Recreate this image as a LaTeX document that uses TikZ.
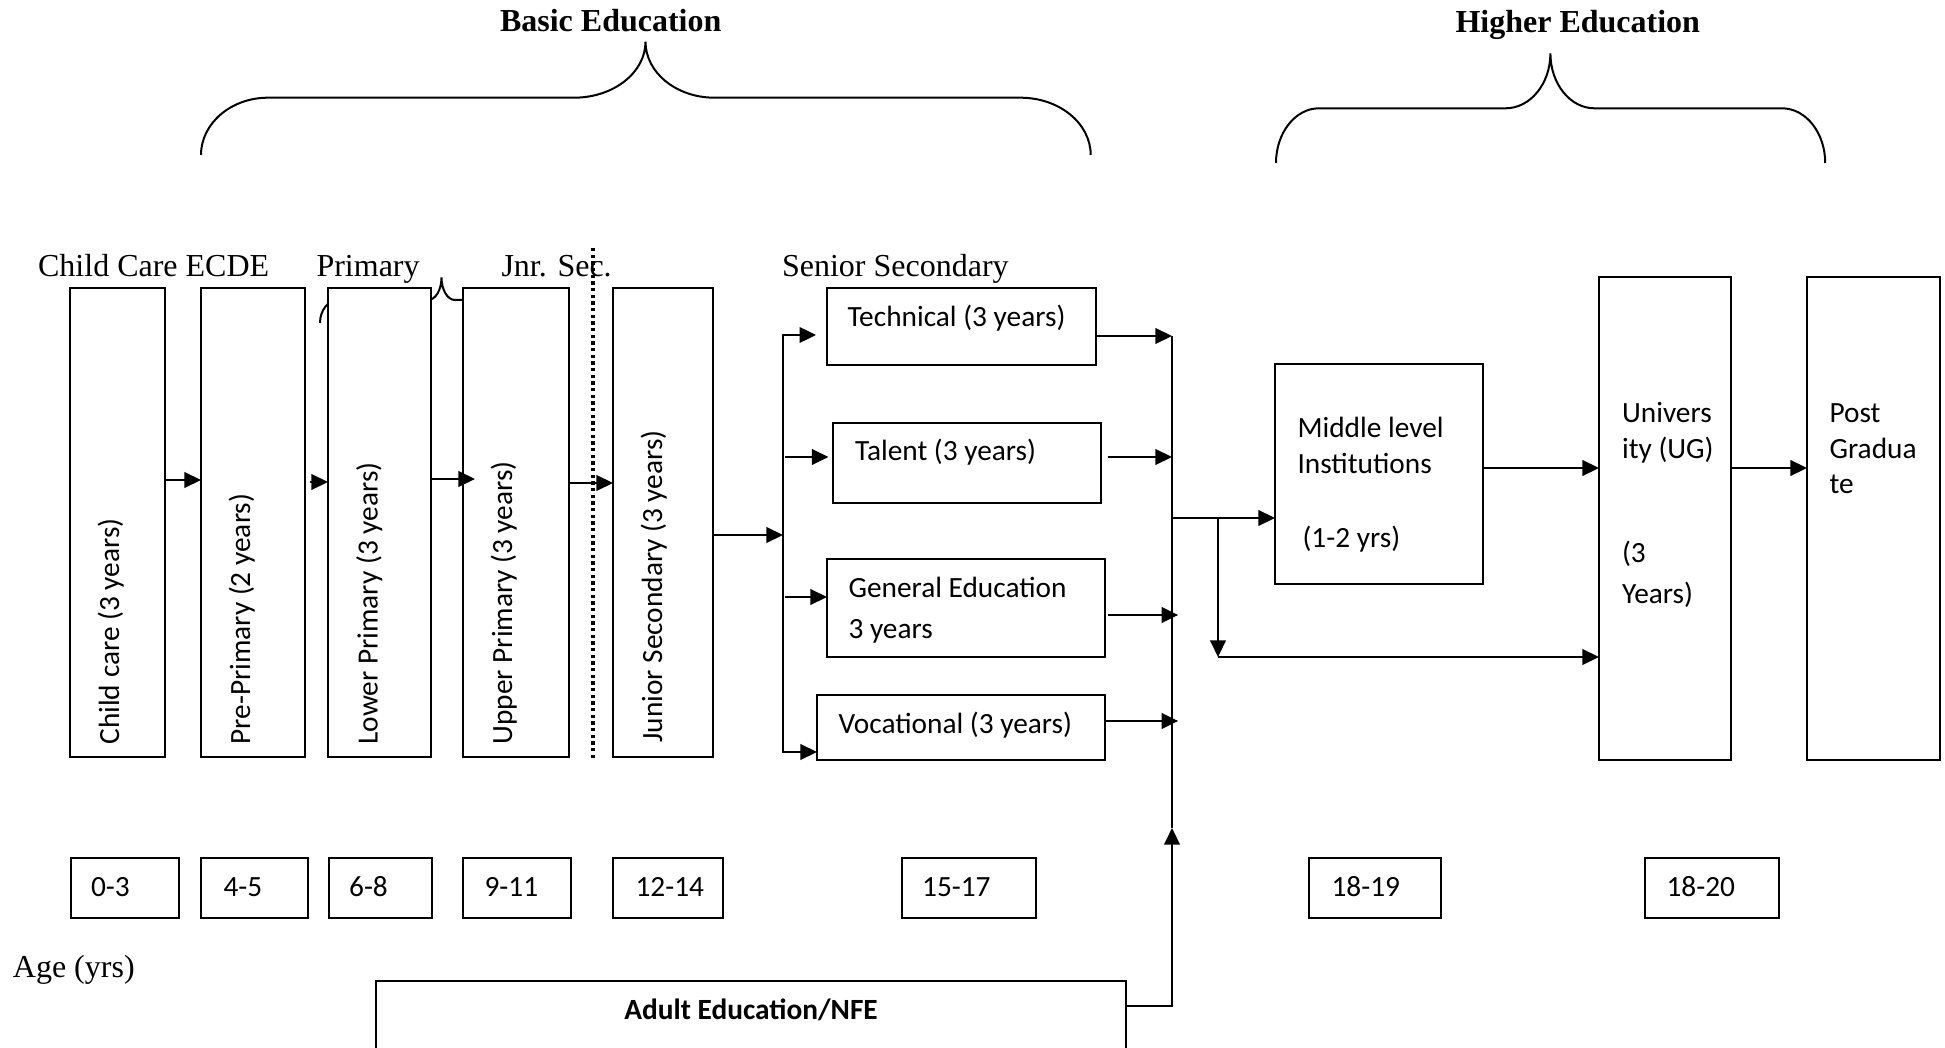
\documentclass[tikz,border=0pt]{standalone}
\usepackage{fontspec}
\setmainfont{Liberation Serif}
\newfontfamily\bodyfont{Carlito}
\usetikzlibrary{arrows.meta}

\tikzset{
  % rectangle given by its top-left and bottom-right corners (in px units)
  pbox/.style n args={4}{draw, line width=0.75pt, fill=white, inner sep=0pt, outer sep=0pt,
    anchor=north west, at={(#1,#2)},
    minimum width={(#3-#1)*0.375pt}, minimum height={(#4-#2)*0.375pt}},
  txt/.style={font=\bodyfont\fontsize{11}{13}\selectfont, inner sep=0pt, anchor=base west},
  vtxt/.style={txt, rotate=90},
  head/.style={font=\fontsize{12}{14}\selectfont, inner sep=0pt, anchor=base west},
  conn/.style={line width=0.9pt, -{Triangle[length=6.2pt,width=5.8pt]}},
  wire/.style={line width=0.9pt},
  brace/.style={line width=0.75pt},
}

\begin{document}
\begin{tikzpicture}[x=0.375pt, y=-0.375pt]
\useasboundingbox (0,0) rectangle (1945,1048);
\fill[white] (0,0) rectangle (1945,1048);
\clip (0,0) rectangle (1945,1048);

% ---- headings ----
\node[head, font=\fontsize{12}{14}\selectfont\bfseries] (hbasic) at (499.5,32) {Basic Education};
\node[head, font=\fontsize{12}{14}\selectfont\bfseries] (hhigher) at (1455,33) {Higher Education};
\node[head] (hecde) at (37.6,277) {Child Care ECDE};
\node[head] (hprim) at (316,277) {Primary};
\node[head] (hjnr) at (501,277) {Jnr. Sec.};
\node[head] (hsen) at (781.5,277) {Senior Secondary};
\node[head] (hage) at (12.4,977) {Age (yrs)};

% ---- braces ----
\draw[brace] (201,155) .. controls (201,123.4) and (231,97.7) .. (268,97.7)
  -- (574,97.7) .. controls (613.5,97.7) and (645.5,72.6) .. (645.5,41.7)
  .. controls (645.5,72.6) and (676.4,97.7) .. (714.4,97.7)
  -- (1020.5,97.7) .. controls (1059.3,97.7) and (1090.7,123.4) .. (1090.7,155);
\draw[brace] (1276,163) .. controls (1276,132.8) and (1295.3,108.3) .. (1319,108.3)
  -- (1505.6,108.3) .. controls (1530.3,108.3) and (1550.4,83.7) .. (1550.4,53.3)
  .. controls (1550.4,83.7) and (1570.1,108.3) .. (1594.4,108.3)
  -- (1782,108.3) .. controls (1805.8,108.3) and (1825.2,132.8) .. (1825.2,163);
% small brace over the primary years (mostly hidden by the boxes)
\draw[brace] (320,323) .. controls (320,310.3) and (328.1,300) .. (338,300)
  -- (428,300) .. controls (435.5,300) and (441.5,289.9) .. (441.5,277.5)
  .. controls (441.5,289.9) and (447.5,300) .. (455,300)
  -- (545,300) .. controls (555,300) and (563,310.3) .. (563,323);

% ---- basic education columns ----
\node[pbox={70}{288}{165}{757}] (cc) {};
\node[pbox={201}{288}{305}{757}] (pp) {};
\node[pbox={328}{288}{431}{757}] (lp) {};
\node[pbox={463}{288}{569}{757}] (up) {};
\node[pbox={613}{288}{713}{757}] (js) {};
\node[vtxt] (cct) at (119,745) {Child care (3 years)};
\node[vtxt] (ppt) at (250,745) {Pre-Primary (2 years)};
\node[vtxt] (lpt) at (377.5,745) {Lower Primary (3 years)};
\node[vtxt] (upt) at (512,745) {Upper Primary (3 years)};
\node[vtxt] (jst) at (662,743) {Junior Secondary (3 years)};

% ---- senior secondary streams ----
\node[pbox={827}{288}{1096}{365}] (tech) {};
\node[pbox={833}{423}{1101}{503}] (tal) {};
\node[pbox={827}{559}{1105}{657}] (gen) {};
\node[pbox={817}{695}{1105}{760}] (voc) {};
\node[txt] (techt) at (847,327) {Technical (3 years)};
\node[txt] (talt) at (854.5,460) {Talent (3 years)};
\node[txt] (gent1) at (848,597) {General Education};
\node[txt] (gent2) at (848,638.5) {3 years};
\node[txt] (voct) at (838,733) {Vocational (3 years)};

% ---- higher education ----
\node[pbox={1275}{364}{1483}{584}] (mid) {};
\node[pbox={1599}{277}{1731}{760}] (uni) {};
\node[pbox={1807}{277}{1940}{760}] (pg) {};
\node[txt] (midt1) at (1297,438) {Middle level};
\node[txt] (midt2) at (1297,473) {Institutions};
\node[txt] (midt3) at (1302,547) {(1-2 yrs)};
\node[txt] (unit1) at (1621.5,423) {Univers};
\node[txt] (unit2) at (1621.5,458) {ity (UG)};
\node[txt] (unit3) at (1621.5,562) {(3};
\node[txt] (unit4) at (1621.5,603) {Years)};
\node[txt] (pgt1) at (1829,423) {Post};
\node[txt] (pgt2) at (1829,458) {Gradua};
\node[txt] (pgt3) at (1829,493) {te};

% ---- age row ----
\node[pbox={71}{858}{179}{918}] (a1) {};
\node[pbox={201}{858}{308}{918}] (a2) {};
\node[pbox={329}{858}{432}{918}] (a3) {};
\node[pbox={463}{858}{571}{918}] (a4) {};
\node[pbox={613}{858}{723}{918}] (a5) {};
\node[pbox={902}{858}{1036}{918}] (a6) {};
\node[pbox={1309}{858}{1441}{918}] (a7) {};
\node[pbox={1645}{858}{1779}{918}] (a8) {};
\node[txt] (a1t) at (90.5,896) {0-3};
\node[txt] (a2t) at (223,896) {4-5};
\node[txt] (a3t) at (348.6,896) {6-8};
\node[txt] (a4t) at (484,896) {9-11};
\node[txt] (a5t) at (635,896) {12-14};
\node[txt] (a6t) at (921.6,896) {15-17};
\node[txt] (a7t) at (1331,896) {18-19};
\node[txt] (a8t) at (1666,896) {18-20};

% ---- adult education ----
\node[pbox={376}{981}{1126}{1080}] (adult) {};
\node[txt, anchor=base, font=\bodyfont\fontsize{11}{13}\selectfont\bfseries] (adultt) at (751,1019) {Adult Education/NFE};

% ---- junction points ----
\coordinate (jLt) at (783,335);
\coordinate (jLb) at (783,752);
\coordinate (jRt) at (1172,336);
\coordinate (jRa) at (1172,828);
\coordinate (br) at (1218,518);
\coordinate (brb) at (1218,657);

% ---- connectors: basic education ----
\draw[conn] (cc.east |- 0,480) -- (pp.west |- 0,480);
\draw[conn, shorten <=1.9pt] (pp.east |- 0,482) -- (lp.west |- 0,482);
\draw[conn, shorten >=-4.5pt] (lp.east |- 0,479) -- (up.west |- 0,479);
\draw[conn] (up.east |- 0,483) -- (js.west |- 0,483);
\draw[conn] (js.east |- 0,535) -- (jLt |- 0,535);

% ---- connectors: into the senior secondary streams ----
\draw[conn, shorten >=4.1pt] (jLb) -- (jLt) -- (tech.west |- jLt);
\draw[conn] (jLt) -- (jLb) -- (voc.west |- jLb);
\draw[conn, shorten <=0.7pt, shorten >=1.7pt] (jLt |- 0,457) -- (tal.west |- 0,457);
\draw[conn, shorten <=0.7pt] (jLt |- 0,597) -- (gen.west |- 0,597);

% ---- connectors: out of the streams ----
\draw[wire] (jRt) -- (jRa);
\draw[conn] (tech.east |- jRt) -- (jRt);
\draw[conn, shorten <=2.5pt] (tal.east |- 0,457) -- (jRt |- 0,457);
\draw[conn, shorten <=1pt, shorten >=-2.3pt] (gen.east |- 0,615) -- (jRt |- 0,615);
\draw[conn, shorten >=-2.3pt] (voc.east |- 0,721) -- (jRt |- 0,721);
\draw[conn] (adult.east |- 0,1006) -- (jRt |- 0,1006) -- (jRa);

% ---- connectors: higher education ----
\draw[conn] (jRt |- br) -- (mid.west |- br);
\draw[conn] (br) -- (brb);
\draw[conn] (brb) -- (uni.west |- brb);
\draw[conn] (mid.east |- 0,468) -- (uni.west |- 0,468);
\draw[conn] (uni.east |- 0,468) -- (pg.west |- 0,468);

% ---- dotted divider ----
\draw[line width=1.2pt, dash pattern=on 1.2pt off 1.3pt] (593,248) -- (593,758);
\end{tikzpicture}
\end{document}
